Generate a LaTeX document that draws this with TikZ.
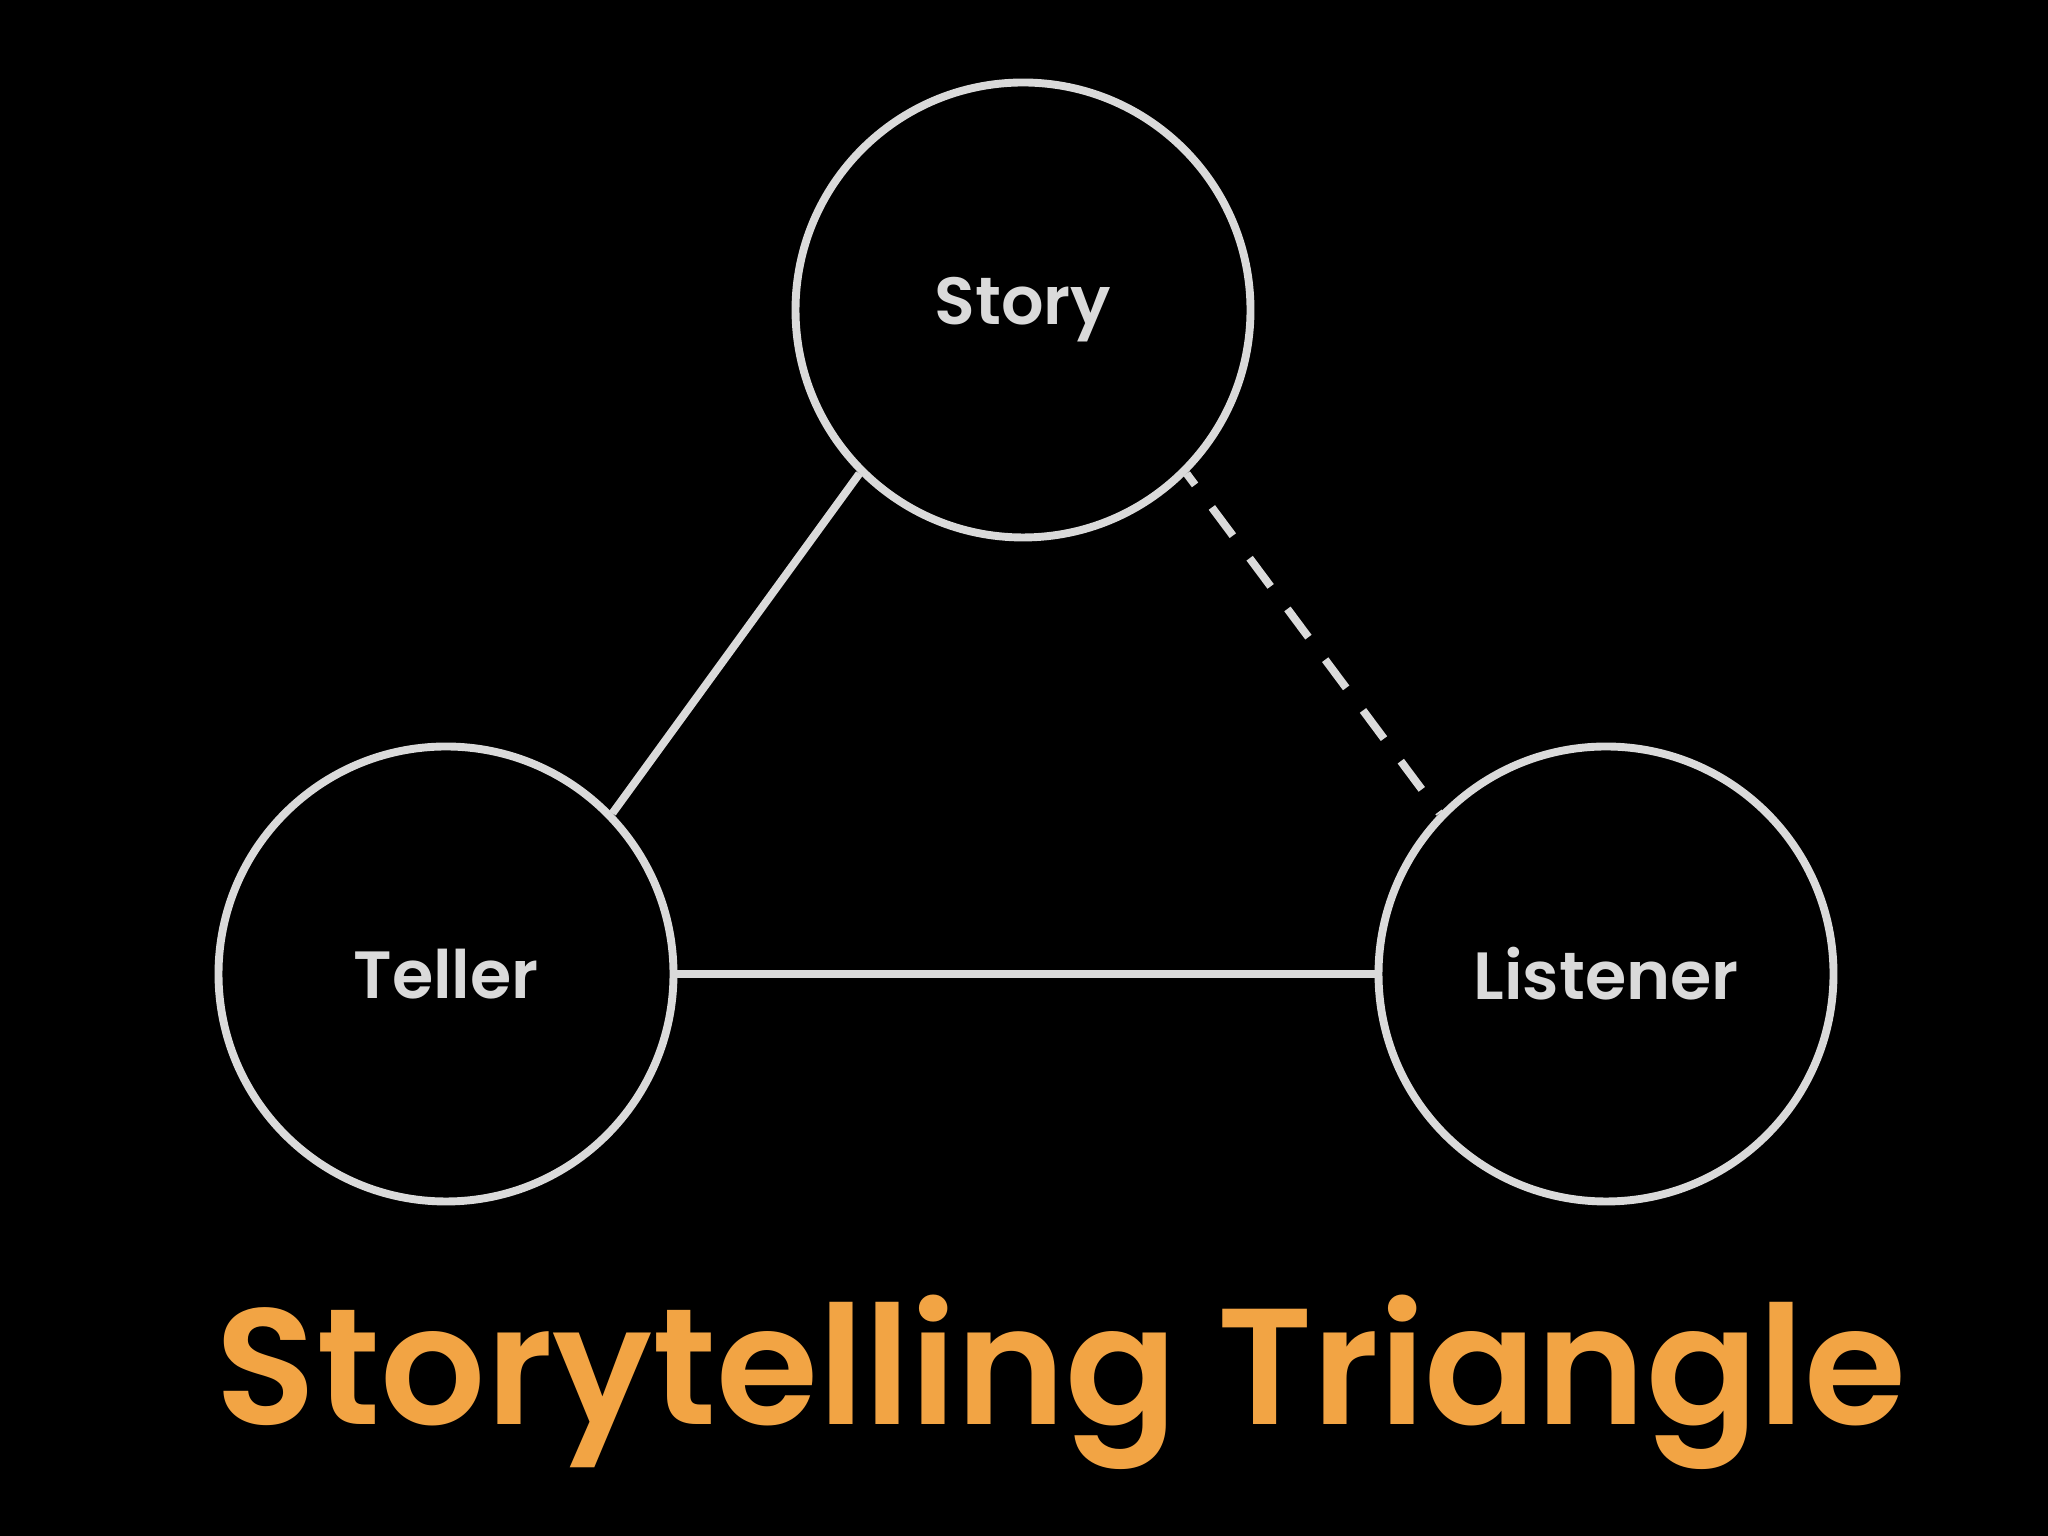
\documentclass[tikz,border=0pt]{standalone}
\usepackage{fontspec}
\setmainfont{Poppins}[BoldFont={* SemiBold}]
\usepackage{xcolor}
\usepackage{tikz}
\usetikzlibrary{positioning}
\definecolor{linegrey}{HTML}{DADADA}
\definecolor{titleorange}{HTML}{F2A444}
\tikzset{
  role/.style={circle, draw=linegrey, line width=4.5pt, minimum size=9.1cm,
    text=linegrey, font=\fontsize{38}{42}\selectfont\bfseries},
  link/.style={draw=linegrey, line width=4.5pt}
}

\begin{document}
\begin{tikzpicture}
\useasboundingbox (0,0) rectangle (40.96,30.72);
\fill[black] (0,0) rectangle (40.96,30.72);

\node[role] (story) at (20.46,24.52) {Story};

\node[role] (teller) at (8.92,11.24) {Teller};
\node[role] (listener) at (32.12,11.24) {Listener};

\path[link] (story.225) edge (teller.44)
            (teller) edge (listener);
\path[link, dash pattern=on 20pt off 16pt, dash phase=12pt] (story.-45) edge (listener.136);

\node[anchor=base, text=titleorange, font=\fontsize{94}{102}\selectfont\bfseries]
  (title) at (21.22,2.22) {Storytelling Triangle};
\end{tikzpicture}
\end{document}
